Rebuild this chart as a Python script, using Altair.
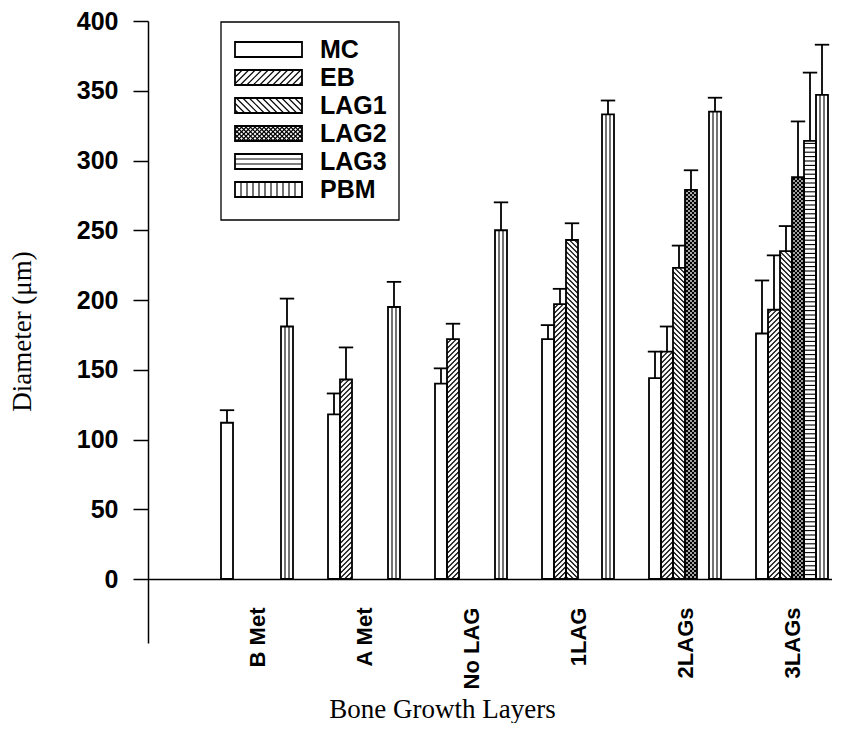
import json
import altair as alt
import pandas as pd

# ---------------- data ----------------
groups = ["B Met", "A Met", "No LAG", "1LAG", "2LAGs", "3LAGs"]
series = ["MC", "EB", "LAG1", "LAG2", "LAG3", "PBM"]

mc_mean = [112, 118, 140, 172, 144, 176]
eb_mean = [None, 143, 172, 197, 163, 193]
lag1_mean = [None, None, None, 243, 223, 235]
lag2_mean = [None, None, None, None, 279, 288]
lag3_mean = [None, None, None, None, None, 314]
pbm_mean = [181, 195, 250, 333, 335, 347]

mc_err = [9, 15, 11, 10, 19, 38]
eb_err = [None, 23, 11, 11, 18, 39]
lag1_err = [None, None, None, 12, 16, 18]
lag2_err = [None, None, None, None, 14, 40]
lag3_err = [None, None, None, None, None, 49]
pbm_err = [20, 18, 20, 10, 10, 36]

y_ticks = [0, 50, 100, 150, 200, 250, 300, 350, 400]

means = {"MC": mc_mean, "EB": eb_mean, "LAG1": lag1_mean,
         "LAG2": lag2_mean, "LAG3": lag3_mean, "PBM": pbm_mean}
errs = {"MC": mc_err, "EB": eb_err, "LAG1": lag1_err,
        "LAG2": lag2_err, "LAG3": lag3_err, "PBM": pbm_err}
hatch_kind = {"MC": None, "EB": "up", "LAG1": "down", "LAG2": "cross",
              "LAG3": "horiz", "PBM": "vert"}

# ---------------- layout / style ----------------
W, H = 684, 622
PAD = {"left": 140, "top": 13, "right": 0, "bottom": 80}
SLOT_PX = 12.0                      # one bar slot in pixels
X_MAX = W / SLOT_PX
GROUP_START = 73 / SLOT_PX          # in slot units
GROUP_STRIDE = 107 / SLOT_PX
Y_MAX = 400
PX_PER_UNIT = 558 / Y_MAX
Y_MIN = Y_MAX - H / PX_PER_UNIT
SANS = "Liberation Sans"
SERIF = "Liberation Serif"
X_TITLE = "Bone Growth Layers"
Y_TITLE = "Diameter (μm)"

# legend geometry (pixels from the plot's top-left corner)
LEG_LEFT, LEG_TOP, LEG_W, LEG_H = 73, 1, 178, 198
SW_LEFT, SW_W, SW_H = 87, 67.0, 15.0
ROW0, ROW_STEP = 28.5, 28
LABEL_LEFT = 172


def diag_up(w, hp, sp):
    out, c = [], -w + sp / 2
    while c < hp:
        us, ue = max(0.0, -c), min(w, hp - c)
        if ue - us > 0.3:
            out.append((us, us + c, ue, ue + c))
        c += sp
    return out


def diag_down(w, hp, sp):
    out, c = [], sp / 2
    while c < hp + w:
        us, ue = max(0.0, c - hp), min(w, c)
        if ue - us > 0.3:
            out.append((us, c - us, ue, c - ue))
        c += sp
    return out


def horiz(w, hp, sp):
    out, h = [], sp
    while h < hp - 1:
        out.append((0.0, h, w, h))
        h += sp
    return out


def vert(w, hp, sp):
    out, u = [], sp
    while u < w - 1:
        out.append((u, 0.0, u, hp))
        u += sp
    return out


def segments(kind, w, hp, legend=False):
    if kind == "up":
        return diag_up(w, hp, 6.5 if legend else 5.0)
    if kind == "down":
        return diag_down(w, hp, 6.5 if legend else 5.0)
    if kind == "cross":
        sp = 4.5 if legend else 4.0
        return diag_up(w, hp, sp) + diag_down(w, hp, sp)
    if kind == "horiz":
        return horiz(w, hp, 5.0 if legend else 4.4)
    if kind == "vert":
        return vert(w, hp, 6.0 if legend else 4.0)
    return []


def px_x(px):
    return px / SLOT_PX


def px_y(py):
    return Y_MAX - py / PX_PER_UNIT


# bars, error bars, hatching
bar_rows, hatch_rows = [], []
for si, s in enumerate(series):
    for gi, g in enumerate(groups):
        v = means[s][gi]
        if v is None:
            continue
        x0 = GROUP_START + gi * GROUP_STRIDE + si
        xc = x0 + 0.5
        bar_rows.append({"series": s, "group": g, "x0": x0, "x1": x0 + 1,
                         "y0": 0.0, "y1": v, "xc": xc, "cl": xc - 0.6,
                         "cr": xc + 0.6, "top": v + errs[s][gi]})
        for (a, b, c, d) in segments(hatch_kind[s], SLOT_PX, v * PX_PER_UNIT):
            hatch_rows.append({"hx1": x0 + a / SLOT_PX, "hy1": b / PX_PER_UNIT,
                               "hx2": x0 + c / SLOT_PX, "hy2": d / PX_PER_UNIT})

# legend: box, swatches (same hatching), labels
box_rows = [{"x0": px_x(LEG_LEFT), "x1": px_x(LEG_LEFT + LEG_W),
             "y0": px_y(LEG_TOP + LEG_H), "y1": px_y(LEG_TOP)}]
sw_rows, lab_rows = [], []
for k, s in enumerate(series):
    cy = ROW0 + k * ROW_STEP
    bottom = cy + SW_H / 2
    sw_rows.append({"series": s, "x0": px_x(SW_LEFT), "x1": px_x(SW_LEFT + SW_W),
                    "y0": px_y(bottom), "y1": px_y(cy - SW_H / 2)})
    lab_rows.append({"label": s, "tx": px_x(LABEL_LEFT), "ty": px_y(cy)})
    for (a, b, c, d) in segments(hatch_kind[s], SW_W, SW_H, legend=True):
        hatch_rows.append({"hx1": px_x(SW_LEFT + a), "hy1": px_y(bottom - b),
                           "hx2": px_x(SW_LEFT + c), "hy2": px_y(bottom - d)})

bars = pd.DataFrame(bar_rows)
hatch = pd.DataFrame(hatch_rows)
rects = pd.DataFrame(bar_rows + sw_rows)
box = pd.DataFrame(box_rows)
labels = pd.DataFrame(lab_rows)

# scales / axes
x_scale = alt.Scale(domain=[0, X_MAX], nice=False, zero=False)
y_scale = alt.Scale(domain=[Y_MIN, Y_MAX], nice=False, zero=False)
centers = [GROUP_START + 3 + gi * GROUP_STRIDE for gi in range(len(groups))]
label_expr = f"{json.dumps(groups)}[round((datum.value - {GROUP_START + 3}) / {GROUP_STRIDE})]"
AXIS_SHIFT = -round(-Y_MIN * PX_PER_UNIT)   # lift the x axis up to y = 0

x_axis = alt.Axis(values=centers, labelExpr=label_expr, title=X_TITLE,
                  offset=AXIS_SHIFT, ticks=False, tickSize=0, domainWidth=1.5,
                  labelAngle=270, labelAlign="right", labelBaseline="middle",
                  labelPadding=28, labelFont=SANS, labelFontSize=22,
                  labelFontWeight="bold", labelFlush=False, labelOverlap=False,
                  titleFont=SERIF, titleFontSize=27, titleFontWeight="normal",
                  titleX=294, titleY=138, titleAlign="center",
                  titleBaseline="alphabetic")
y_axis = alt.Axis(values=y_ticks, title=Y_TITLE, tickSize=15, tickWidth=1.5,
                  domainWidth=1.5, labelPadding=15, labelFont=SANS, labelFontSize=25,
                  labelFontWeight="bold", titleFont=SERIF, titleFontSize=27,
                  titleFontWeight="normal", titleAngle=270, titleX=-126, titleY=310,
                  titleAlign="center", titleBaseline="middle")


def X(field):
    return alt.X(field, type="quantitative", scale=x_scale, axis=x_axis, title=X_TITLE)


def Y(field):
    return alt.Y(field, type="quantitative", scale=y_scale, axis=y_axis, title=Y_TITLE)


box_layer = alt.Chart(box).mark_rect(fill="white", stroke="black", strokeWidth=1.3).encode(
    x=X("x0"), x2="x1:Q", y=Y("y0"), y2="y1:Q",
)

fill_layer = alt.Chart(rects).mark_rect(fill="white", strokeWidth=0).encode(
    x=X("x0"), x2="x1:Q", y=Y("y0"), y2="y1:Q",
)

hatch_layer = alt.Chart(hatch).mark_rule(stroke="black", strokeWidth=1.1).encode(
    x=X("hx1"), x2="hx2:Q", y=Y("hy1"), y2="hy2:Q",
)

outline_layer = alt.Chart(rects).mark_rect(
    fillOpacity=0, stroke="black", strokeWidth=1.8
).encode(
    x=X("x0"), x2="x1:Q", y=Y("y0"), y2="y1:Q",
)

stem_layer = alt.Chart(bars).mark_rule(stroke="black", strokeWidth=1.8).encode(
    x=X("xc"), y=Y("y1"), y2="top:Q",
)

cap_layer = alt.Chart(bars).mark_rule(stroke="black", strokeWidth=1.8).encode(
    x=X("cl"), x2="cr:Q", y=Y("top"),
)

label_layer = alt.Chart(labels).mark_text(
    align="left", baseline="middle", font=SANS, fontSize=25,
    fontWeight="bold", color="black",
).encode(
    x=X("tx"), y=Y("ty"), text="label:N",
)

chart = alt.layer(
    box_layer, fill_layer, hatch_layer, outline_layer, stem_layer, cap_layer,
    label_layer,
).properties(
    width=W, height=H, padding=PAD,
    autosize=alt.AutoSizeParams(type="none"),
    background="white",
).configure_view(stroke=None).configure_axis(
    grid=False, domainColor="black", tickColor="black",
    labelColor="black", titleColor="black",
)

chart.save("out.html", embed_options={"renderer": "svg", "actions": False})
